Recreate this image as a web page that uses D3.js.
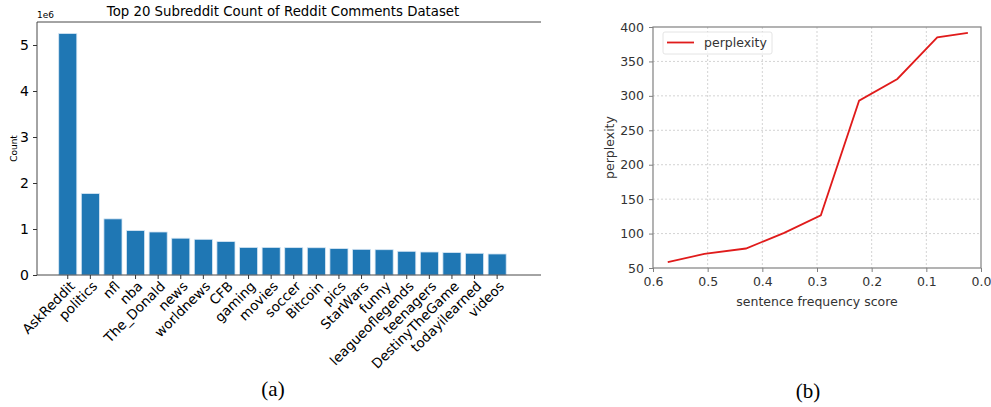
<!DOCTYPE html>
<html>
<head>
<meta charset="utf-8">
<script src="https://cdn.jsdelivr.net/npm/d3@7"></script>
<style>
  body { margin: 0; background: #fff; }
  svg { display: block; font-family: "DejaVu Sans", sans-serif; }
</style>
</head>
<body>
<svg id="chart" width="991" height="407"></svg>
<script>
// panel (a): subreddit comment counts (in millions, axis shows 1e6)
const subreddits = ['AskReddit', 'politics', 'nfl', 'nba', 'The_Donald', 'news', 'worldnews', 'CFB',
    'gaming', 'movies', 'soccer', 'Bitcoin', 'pics', 'StarWars', 'funny', 'leagueoflegends',
    'teenagers', 'DestinyTheGame', 'todayilearned', 'videos'];
const counts = [5.25, 1.77, 1.22, 0.965, 0.935, 0.80, 0.776, 0.726, 0.60, 0.60, 0.595, 0.593,
    0.574, 0.558, 0.55, 0.515, 0.50, 0.487, 0.472, 0.457];
const countTicks = [0, 1, 2, 3, 4, 5];

// panel (b): perplexity vs sentence frequency score
const freqScore = [0.573, 0.506, 0.430, 0.360, 0.293, 0.223, 0.153, 0.080, 0.024];
const perplexity = [58.7, 70.4, 78.3, 101, 126.4, 293, 324.6, 385, 391.5];
const scoreTicks = [0.6, 0.5, 0.4, 0.3, 0.2, 0.1, 0.0];
const perpTicks = [50, 100, 150, 200, 250, 300, 350, 400];

const svg = d3.select('#chart');

// ---------- panel (a) ----------
function drawBars() {
    const left = 37, right = 541, top = 22, bottom = 275;
    const g = svg.append('g');

    const x = d3.scaleBand()
        .domain(subreddits)
        .range([54.2, 510.7])
        .padding(0.2);
    const y = d3.scaleLinear()
        .domain([0, 5.5])
        .range([bottom, top]);

    g.selectAll('rect.bar')
        .data(subreddits)
        .join('rect')
        .attr('class', 'bar')
        .attr('x', d => x(d))
        .attr('width', x.bandwidth())
        .attr('y', (d, i) => y(counts[i]))
        .attr('height', (d, i) => y(0) - y(counts[i]))
        .attr('fill', '#1f77b4')
        .attr('stroke', '#d6e6f4')
        .attr('stroke-width', 0.8);

    // spines: left, top, bottom (right edge is cut off)
    const spine = '#333';
    g.append('line').attr('x1', left).attr('x2', left).attr('y1', top).attr('y2', bottom)
        .attr('stroke', spine).attr('stroke-width', 0.9);
    g.append('line').attr('x1', left).attr('x2', right).attr('y1', top).attr('y2', top)
        .attr('stroke', spine).attr('stroke-width', 0.9);
    g.append('line').attr('x1', left).attr('x2', right).attr('y1', bottom).attr('y2', bottom)
        .attr('stroke', spine).attr('stroke-width', 0.9);

    const yAxis = g.append('g')
        .attr('transform', `translate(${left},0)`)
        .call(d3.axisLeft(y).tickValues(countTicks).tickSize(4).tickPadding(4).tickFormat(d3.format('d')));
    yAxis.select('.domain').remove();
    yAxis.selectAll('line').attr('stroke', spine);
    yAxis.selectAll('text').attr('font-size', 14).attr('fill', '#000')
        .attr('font-family', '"DejaVu Sans", sans-serif');

    const xAxis = g.append('g')
        .attr('transform', `translate(0,${bottom})`)
        .call(d3.axisBottom(x).tickSize(4).tickPadding(2));
    xAxis.select('.domain').remove();
    xAxis.selectAll('line').attr('stroke', spine);
    xAxis.selectAll('text')
        .attr('font-size', 13.5)
        .attr('fill', '#000')
        .attr('font-family', '"DejaVu Sans", sans-serif')
        .attr('text-anchor', 'end')
        .attr('dy', '0.75em')
        .attr('y', 4)
        .attr('transform', 'rotate(-45) translate(-3,0)');

    g.append('text')
        .attr('x', 283).attr('y', 16)
        .attr('text-anchor', 'middle')
        .attr('font-size', 13.3)
        .text('Top 20 Subreddit Count of Reddit Comments Dataset');

    g.append('text')
        .attr('x', left).attr('y', 18)
        .attr('font-size', 9)
        .text('1e6');

    g.append('text')
        .attr('transform', `translate(17,${(top + bottom) / 2}) rotate(-90)`)
        .attr('text-anchor', 'middle')
        .attr('font-size', 9)
        .text('Count');

    svg.append('text')
        .attr('x', 273).attr('y', 396)
        .attr('text-anchor', 'middle')
        .attr('font-family', '"Liberation Serif", "Times New Roman", serif')
        .attr('font-size', 21)
        .text('(a)');
}

// ---------- panel (b) ----------
function drawLine() {
    const left = 653, right = 981, top = 27, bottom = 268;
    const g = svg.append('g');
    const textColor = '#333';
    const spine = '#808080';

    const x = d3.scaleLinear().domain([0.6, 0]).range([left, right]);
    const y = d3.scaleLinear().domain([50, 400]).range([bottom, top]);

    // dotted grid
    g.append('g').selectAll('line')
        .data(scoreTicks.slice(1, -1))
        .join('line')
        .attr('x1', d => x(d)).attr('x2', d => x(d))
        .attr('y1', top).attr('y2', bottom)
        .attr('stroke', '#c8c8c8').attr('stroke-width', 0.8).attr('stroke-dasharray', '2,2');
    g.append('g').selectAll('line')
        .data(perpTicks.slice(1, -1))
        .join('line')
        .attr('x1', left).attr('x2', right)
        .attr('y1', d => y(d)).attr('y2', d => y(d))
        .attr('stroke', '#c8c8c8').attr('stroke-width', 0.8).attr('stroke-dasharray', '2,2');

    g.append('rect')
        .attr('x', left).attr('y', top)
        .attr('width', right - left).attr('height', bottom - top)
        .attr('fill', 'none').attr('stroke', spine).attr('stroke-width', 1.2);

    const xAxis = g.append('g')
        .attr('transform', `translate(0,${bottom})`)
        .call(d3.axisBottom(x).tickValues(scoreTicks).tickSize(4).tickPadding(5).tickFormat(d3.format('.1f')));
    xAxis.select('.domain').remove();
    xAxis.selectAll('line').attr('stroke', spine);
    xAxis.selectAll('text').attr('font-size', 12.5).attr('fill', textColor)
        .attr('font-family', '"DejaVu Sans", sans-serif');

    const yAxis = g.append('g')
        .attr('transform', `translate(${left},0)`)
        .call(d3.axisLeft(y).tickValues(perpTicks).tickSize(4).tickPadding(5));
    yAxis.select('.domain').remove();
    yAxis.selectAll('line').attr('stroke', spine);
    yAxis.selectAll('text').attr('font-size', 12.5).attr('fill', textColor)
        .attr('font-family', '"DejaVu Sans", sans-serif');

    const line = d3.line()
        .x((d, i) => x(freqScore[i]))
        .y(d => y(d));
    g.append('path')
        .datum(perplexity)
        .attr('d', line)
        .attr('fill', 'none')
        .attr('stroke', '#e01b1b')
        .attr('stroke-width', 1.8);

    // legend
    const lg = g.append('g');
    lg.append('rect')
        .attr('x', 663).attr('y', 32).attr('width', 109).attr('height', 22).attr('rx', 2)
        .attr('fill', '#fff').attr('fill-opacity', 0.8)
        .attr('stroke', '#ddd').attr('stroke-width', 0.8);
    lg.append('line')
        .attr('x1', 667).attr('x2', 694).attr('y1', 42.5).attr('y2', 42.5)
        .attr('stroke', '#e01b1b').attr('stroke-width', 1.8);
    lg.append('text')
        .attr('x', 704).attr('y', 47)
        .attr('font-size', 12.5).attr('fill', textColor)
        .text('perplexity');

    g.append('text')
        .attr('x', (left + right) / 2).attr('y', 306)
        .attr('text-anchor', 'middle')
        .attr('font-size', 12.5).attr('fill', textColor)
        .text('sentence frequency score');

    g.append('text')
        .attr('transform', `translate(614,${(top + bottom) / 2}) rotate(-90)`)
        .attr('text-anchor', 'middle')
        .attr('font-size', 12.5).attr('fill', textColor)
        .text('perplexity');

    svg.append('text')
        .attr('x', 808).attr('y', 398)
        .attr('text-anchor', 'middle')
        .attr('font-family', '"Liberation Serif", "Times New Roman", serif')
        .attr('font-size', 21)
        .text('(b)');
}

drawBars();
drawLine();
</script>
</body>
</html>
